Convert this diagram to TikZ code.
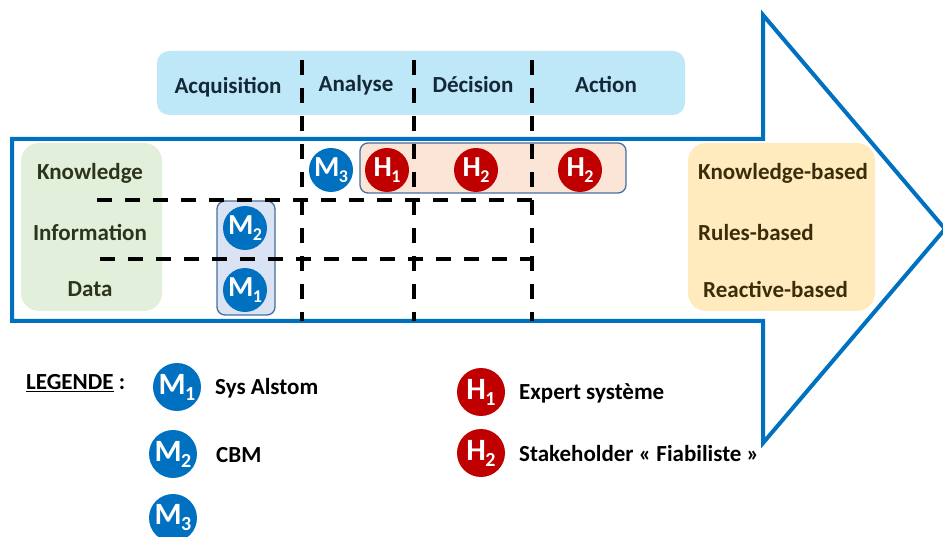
\documentclass[tikz,border=0pt]{standalone}
\usepackage{fontspec}
\setmainfont{Carlito}
\definecolor{ablue}{RGB}{0,112,192}
\definecolor{hdr}{RGB}{190,232,247}
\definecolor{grn}{RGB}{226,239,218}
\definecolor{ylw}{RGB}{255,235,190}
\definecolor{pch}{RGB}{251,229,214}
\definecolor{mbox}{RGB}{218,227,243}
\definecolor{mborder}{RGB}{70,110,160}
\definecolor{hred}{RGB}{192,0,0}
\definecolor{hdrtxt}{RGB}{20,40,55}
\definecolor{grntxt}{RGB}{45,52,28}
\definecolor{ylwtxt}{RGB}{60,45,10}
\newcommand{\circlab}[2]{{\fontsize{29}{29}\selectfont #1}\kern-0.5pt\raisebox{-6pt}{\fontsize{18}{18}\selectfont #2}}
\newcommand{\circlabL}[2]{{\fontsize{31}{31}\selectfont #1}\kern-0.5pt\raisebox{-6pt}{\fontsize{20}{20}\selectfont #2}}
\tikzset{
  lbl/.style={font=\bfseries\fontsize{23}{25}\selectfont, inner sep=0pt},
  hdrlbl/.style={lbl, text=hdrtxt},
  rowlbl/.style={lbl, text=grntxt},
  baselbl/.style={lbl, text=ylwtxt, anchor=west},
  leglbl/.style={lbl, text=black, anchor=west},
  mc/.style={circle, fill=ablue, inner sep=0pt, minimum size=44pt, text=white, font=\bfseries},
  hc/.style={mc, fill=hred},
  mcl/.style={mc, minimum size=48pt},
  hcl/.style={hc, minimum size=48pt},
  grid/.style={line width=3.2pt, dash pattern=on 15pt off 13pt, black},
}
\begin{document}
\begin{tikzpicture}[x=1pt, y=-1pt]
\useasboundingbox (0,0) rectangle (943,537);
% big arrow
\draw[ablue, line width=4pt, line join=miter] (12,139) -- (763,139) -- (763,15) -- (945,229) -- (763,443) -- (763,321) -- (12,321) -- cycle;
% header
\node[fill=hdr, rounded corners=12pt, minimum width=528pt, minimum height=64pt, inner sep=0pt] (hdr) at (421,83) {};
\node[hdrlbl] (acq) at (228,87) {Acquisition};
\node[hdrlbl] (ana) at (356,85) {Analyse};
\node[hdrlbl] (dec) at (473,85) {Décision};
\node[hdrlbl] (act) at (606,85) {Action};
% green box
\node[fill=grn, rounded corners=18pt, minimum width=141pt, minimum height=168pt, inner sep=0pt] (gbox) at (91.5,227) {};
\node[rowlbl] (know) at (90,173) {Knowledge};
\node[rowlbl] (info) at (90,233) {Information};
\node[rowlbl] (data) at (90,289) {Data};
% yellow box
\node[fill=ylw, rounded corners=18pt, minimum width=187pt, minimum height=168pt, inner sep=0pt] (ybox) at (781.5,227) {};
\node[baselbl] (kb) at (698,173) {Knowledge-based};
\node[baselbl] (rb) at (698,233) {Rules-based};
\node[baselbl] (reb) at (703,289) {Reactive-based};
% M box and peach box
\node[draw=mborder, line width=1.3pt, fill=mbox, rounded corners=8pt, minimum width=58pt, minimum height=114pt, inner sep=0pt] (mb) at (246,258) {};
\node[draw=mborder, line width=1.3pt, fill=pch, rounded corners=8pt, minimum width=266pt, minimum height=50pt, inner sep=0pt] (pb) at (493,168) {};
% dashed grid
\coordinate (v1t) at (302,60); \coordinate (v1b) at (302,321);
\coordinate (v2t) at (414,60); \coordinate (v2b) at (414,321);
\coordinate (v3t) at (532,60); \coordinate (v3b) at (532,321);
\coordinate (h1l) at (97,200); \coordinate (h1r) at (532,200);
\coordinate (h2l) at (100,259); \coordinate (h2r) at (532,259);
\draw[grid] (v1t) -- (v1b);
\draw[grid] (v2t) -- (v2b);
\draw[grid] (v3t) -- (v3b);
\draw[grid] (h1l) -- (h1r);
\draw[grid] (h2l) -- (h2r);
% circles
\node[mc] (m3) at (331,170) {\circlab{M}{3}};
\node[mc] (m2) at (245,228) {\circlab{M}{2}};
\node[mc] (m1) at (245,290) {\circlab{M}{1}};
\node[hc] (h1) at (387,170) {\circlab{H}{1}};
\node[hc] (h2a) at (476,170) {\circlab{H}{2}};
\node[hc] (h2b) at (580,170) {\circlab{H}{2}};
% legend
\node[leglbl] (leg) at (26,383) {\underline{LEGENDE} :};
\node[mcl] (lm1) at (177,387) {\circlabL{M}{1}};
\node[leglbl] (lm1t) at (215,388) {Sys Alstom};
\node[mcl] (lm2) at (173,454) {\circlabL{M}{2}};
\node[leglbl] (lm2t) at (216,455) {CBM};
\node[mcl] (lm3) at (173,518) {\circlabL{M}{3}};
\node[hcl] (lh1) at (481,392) {\circlabL{H}{1}};
\node[leglbl] (lh1t) at (519,393) {Expert système};
\node[hcl] (lh2) at (481,453) {\circlabL{H}{2}};
\node[leglbl] (lh2t) at (519,454) {Stakeholder « Fiabiliste »};
\end{tikzpicture}
\end{document}
